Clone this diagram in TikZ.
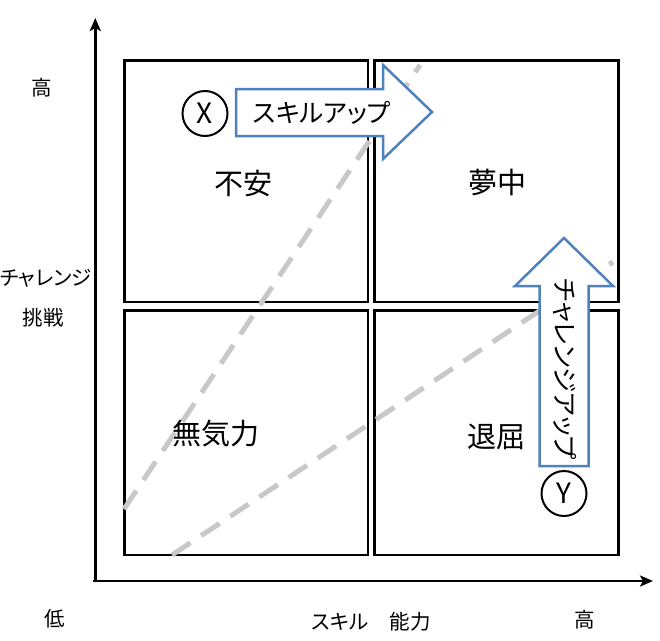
\documentclass[tikz,border=0pt]{standalone}
\usepackage{fontspec}
\setmainfont{Noto Sans CJK JP}[RawFeature=+palt]
\usetikzlibrary{arrows.meta}
\definecolor{arrowblue}{HTML}{4F81BD}
\definecolor{dashgray}{HTML}{C8C8C8}
\begin{document}
\begin{tikzpicture}[x=1pt,y=-1pt,
  quad/.style={draw=black, line width=2.7pt, inner sep=0pt, outer sep=0pt},
  diag/.style={draw=dashgray, line width=5pt, dash pattern=on 22pt off 13pt},
  bigarrow/.style={draw=arrowblue, fill=white, line width=2.5pt, line join=miter},
  axis/.style={draw=black, line width=2.7pt, -{Stealth[length=13pt,width=11pt,inset=3pt]}},
  circ/.style={circle, draw=black, line width=2pt, minimum size=45pt, inner sep=0pt, font=\fontsize{28}{28}\selectfont},
  lbl/.style={inner sep=0pt, font=\fontsize{29}{29}\selectfont},
  axl/.style={inner sep=0pt, font=\fontsize{20.5}{20.5}\selectfont},
  arl/.style={inner sep=0pt, font=\fontsize{25.5}{25.5}\selectfont}]
\useasboundingbox (0,0) rectangle (660,640);

% quadrants
\node[quad, minimum width=243.5pt, minimum height=241.5pt] (tl) at (246.25,181.25) {};
\node[quad, minimum width=244pt, minimum height=241.5pt] (tr) at (496.5,181.25) {};
\node[quad, minimum width=243.5pt, minimum height=244.5pt] (bl) at (246.25,432.75) {};
\node[quad, minimum width=244pt, minimum height=244.5pt] (br) at (496.5,432.75) {};

% axes
\coordinate (yo) at (95.3,582.3);
\coordinate (ye) at (95.3,18);
\coordinate (xo) at (93,581);
\coordinate (xe) at (653,581);
\draw[axis] (yo) -- (ye);
\draw[axis] (xo) -- (xe);

% dashed diagonals
\coordinate (d1a) at (124,509);
\coordinate (d1b) at (420,65);
\coordinate (d2a) at (172,555);
\coordinate (d2b) at (613,262);
\draw[diag] (d1a) -- (d1b);
\draw[diag] (d2a) -- (d2b);

% block arrows
\draw[bigarrow] (236,89) -- (383,89) -- (383,65) -- (432,112) -- (383,159) -- (383,136) -- (236,136) -- cycle;
\draw[bigarrow] (539.5,466) -- (539.5,286) -- (515,286) -- (564,238) -- (613,286) -- (588.5,286) -- (588.5,466) -- cycle;
\node[arl] (skillup) at (322,113) {スキルアップ};
\node[arl, rotate=-90] (challup) at (565,369) {チャレンジアップ};

% circles
\node[circ] (cx) at (205,113.5) {X};
\node[circ] (cy) at (564,493.5) {Y};

% quadrant labels
\node[lbl] (fuan) at (243,183) {不安};
\node[lbl] (muchu) at (497,183) {夢中};
\node[lbl] (muki) at (216,434) {無気力};
\node[lbl] (taikutsu) at (496,437) {退屈};

% axis labels
\node[axl] (yhigh) at (42,88) {高};
\node[axl] (ych) at (46,278) {チャレンジ};
\node[axl] (ych2) at (43,318) {挑戦};
\node[axl] (low) at (55,619) {低};
\node[axl] (xsk) at (340,622) {スキル};
\node[axl] (xno) at (410,622) {能力};
\node[axl] (xhigh) at (585,620) {高};
\end{tikzpicture}
\end{document}
